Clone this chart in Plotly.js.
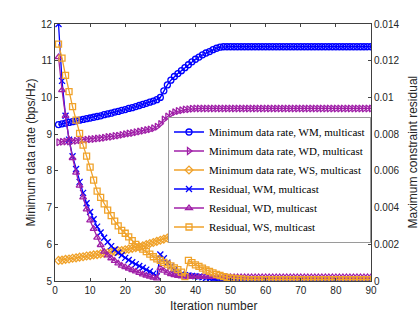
<!DOCTYPE html>
<html><head><meta charset="utf-8">
<script src="https://cdn.plot.ly/plotly-3.0.1.min.js"></script>
<style>html,body{margin:0;padding:0;background:#fff}#chart{width:420px;height:315px}</style>
</head><body><div id="chart"></div>
<script>
const iterations = [];
for (let i = 1; i <= 90; i++) iterations.push(i);

const rateWM = [9.26,9.28,9.30,9.32,9.34,9.36,9.38,9.40,9.42,9.44,9.46,9.48,9.50,9.53,9.55,9.57,9.60,9.62,9.65,9.67,9.70,9.72,9.75,9.78,9.81,9.84,9.87,9.90,9.94,10.00,
10.18,10.34,10.47,10.57,10.65,10.73,10.81,10.89,10.97,11.04,11.10,11.16,11.21,11.25,11.30,11.34,11.37,11.38,11.38,11.38,
11.38,11.38,11.38,11.38,11.38,11.38,11.38,11.38,11.38,11.38,11.38,11.38,11.38,11.38,11.38,11.38,11.38,11.38,11.38,11.38,
11.38,11.38,11.38,11.38,11.38,11.38,11.38,11.38,11.38,11.38,11.38,11.38,11.38,11.38,11.38,11.38,11.38,11.38,11.38,11.38];

const rateWD = [8.78,8.79,8.80,8.80,8.81,8.82,8.83,8.84,8.85,8.86,8.87,8.88,8.89,8.90,8.92,8.93,8.95,8.96,8.98,9.00,9.02,9.03,9.05,9.07,9.09,9.11,9.13,9.16,9.20,9.28,
9.40,9.48,9.55,9.60,9.63,9.65,9.67,9.68,9.69,9.70,9.70,9.70,9.70,9.70,9.70,9.70,9.70,9.70,9.70,9.70,
9.70,9.70,9.70,9.70,9.70,9.70,9.70,9.70,9.70,9.70,9.70,9.70,9.70,9.70,9.70,9.70,9.70,9.70,9.70,9.70,
9.70,9.70,9.70,9.70,9.70,9.70,9.70,9.70,9.70,9.70,9.70,9.70,9.70,9.70,9.70,9.70,9.70,9.70,9.70,9.70];

const rateWS = [5.56,5.57,5.59,5.60,5.62,5.63,5.65,5.66,5.68,5.69,5.71,5.72,5.74,5.75,5.77,5.78,5.80,5.82,5.83,5.85,5.87,5.89,5.91,5.93,5.96,5.99,6.02,6.05,6.08,6.11,
6.14,6.17,6.20,6.23,6.26,6.30,6.34,6.39,6.45,6.52,6.58,6.64,6.69,6.73,6.76,6.78,6.79,6.80,6.80,6.80,
6.80,6.80,6.80,6.80,6.80,6.80,6.80,6.80,6.80,6.80,6.80,6.80,6.80,6.80,6.80,6.80,6.80,6.80,6.80,6.80,
6.80,6.80,6.80,6.80,6.80,6.80,6.80,6.80,6.80,6.80,6.80,6.80,6.80,6.80,6.80,6.80,6.80,6.80,6.80,6.80];

const resWM = [0.0140,0.0109,0.0090,0.0077,0.0068,0.0061,0.0054,0.0048,0.00424,0.00376,0.00336,0.00296,0.00264,0.00236,0.00212,0.0019,0.00172,0.00154,0.0014,0.00126,0.00114,0.00102,0.00092,0.00082,0.00072,0.00062,0.00052,0.0004,0.00026,0.00144,
0.00124,0.0010,0.0008,0.0006,0.00044,0.00036,0.00032,0.0003,0.00028,0.00026,0.00024,0.0002,0.00016,0.00012,0.00008,0.00006,0.00004,0.00003,0.00002,0.00001,
0.00001,0.00001,0.00001,0.00001,0.00001,0.00001,0.00001,0.00001,0.00001,0.00001,0.00001,0.00001,0.00001,0.00001,0.00001,0.00001,0.00001,0.00001,0.00001,0.00001,
0.00001,0.00001,0.00001,0.00001,0.00001,0.00001,0.00001,0.00001,0.00001,0.00001,0.00001,0.00001,0.00001,0.00001,0.00001,0.00001,0.00001,0.00001,0.00001,0.00001];

const resWD = [0.0122,0.0104,0.0090,0.0077,0.0067,0.0059,0.0052,0.00456,0.0039,0.0033,0.00284,0.00236,0.00196,0.0016,0.0014,0.00124,0.0011,0.00096,0.00084,0.00076,0.00068,0.0006,0.00052,0.00044,0.00036,0.0003,0.00024,0.00018,0.00014,0.0007,
0.00056,0.00046,0.00038,0.00032,0.00028,0.00026,0.00025,0.00024,0.00023,0.00022,0.00022,0.00022,0.00022,0.00022,0.00022,0.00022,0.00022,0.00022,0.00022,0.00022,
0.00022,0.00022,0.00022,0.00022,0.00022,0.00022,0.00022,0.00022,0.00022,0.00022,0.00022,0.00022,0.00022,0.00022,0.00022,0.00022,0.00022,0.00022,0.00022,0.00022,
0.00022,0.00022,0.00022,0.00022,0.00022,0.00022,0.00022,0.00022,0.00022,0.00022,0.00022,0.00022,0.00022,0.00022,0.00022,0.00022,0.00022,0.00022,0.00022,0.00022];

const resWS = [0.0129,0.01214,0.0112,0.01032,0.0095,0.00876,0.00804,0.0074,0.0068,0.0062,0.0055,0.0049,0.00456,0.0042,0.00386,0.00356,0.00326,0.003,0.00276,0.0026,0.0024,0.0022,0.002,0.00186,0.00174,0.0016,0.00146,0.00132,0.0012,0.00112,
0.00102,0.00092,0.00082,0.00072,0.00062,0.00048,0.00024,0.00112,0.0010,0.00088,0.0008,0.0007,0.0006,0.00052,0.00044,0.00036,0.0003,0.00024,0.0002,0.00016,
0.00014,0.00012,0.0001,0.00009,0.00008,0.00008,0.00008,0.00008,0.00008,0.00008,0.00008,0.00008,0.00008,0.00008,0.00008,0.00008,0.00008,0.00008,0.00008,0.00008,
0.00008,0.00008,0.00008,0.00008,0.00008,0.00008,0.00008,0.00008,0.00008,0.00008,0.00008,0.00008,0.00008,0.00008,0.00008,0.00008,0.00008,0.00008,0.00008,0.00008];

const seriesNames = [
  'Minimum data rate, WM, multicast',
  'Minimum data rate, WD, multicast',
  'Minimum data rate, WS, multicast',
  'Residual, WM, multicast',
  'Residual, WD, multicast',
  'Residual, WS, multicast'
];
const xTitle = 'Iteration number';
const yLeftTitle = 'Minimum data rate (bps/Hz)';
const yRightTitle = 'Maximum constraint residual';
const leftTicks = [5,6,7,8,9,10,11,12];
const rightTickVals = [0,0.002,0.004,0.006,0.008,0.01,0.012,0.014];
const rightTickText = ['0','0.002','0.004','0.006','0.008','0.01','0.012','0.014'];
const xTicks = [0,10,20,30,40,50,60,70,80,90];

const BLUE = '#0000ff', PURPLE = '#a020a8', ORANGE = '#f0a22a';

function tr(y, name, color, symbol, yaxis, msize) {
  return {
    x: iterations, y: y, name: name, yaxis: yaxis,
    type: 'scatter', mode: 'lines+markers',
    line: {color: color, width: 1.3},
    marker: {symbol: symbol, size: msize, color: color, line: {color: color, width: 1.3}}
  };
}

const data = [
  tr(rateWM, seriesNames[0], BLUE, 'circle-open', 'y', 6),
  tr(rateWD, seriesNames[1], PURPLE, 'triangle-right-open', 'y', 6),
  tr(rateWS, seriesNames[2], ORANGE, 'diamond-open', 'y', 6),
  tr(resWM, seriesNames[3], BLUE, 'x-thin-open', 'y2', 6),
  tr(resWD, seriesNames[4], PURPLE, 'triangle-up-open', 'y2', 6),
  tr(resWS, seriesNames[5], ORANGE, 'square-open', 'y2', 6)
];

const axisFont = {family: 'Liberation Sans, Arial, sans-serif', size: 10, color: '#262626'};
const titleFont = {family: 'Liberation Sans, Arial, sans-serif', size: 12, color: '#262626'};
const layout = {
  width: 420, height: 315,
  margin: {l: 55, r: 49, t: 24, b: 34},
  paper_bgcolor: '#fff', plot_bgcolor: '#fff',
  showlegend: true,
  font: axisFont,
  xaxis: {
    range: [0, 90], tickvals: xTicks, ticks: 'inside', ticklen: 3,
    showline: true, linecolor: '#404040', linewidth: 1, mirror: 'ticks',
    showgrid: false, zeroline: false, tickfont: axisFont
  },
  yaxis: {
    range: [5, 12], tickvals: leftTicks, ticks: 'inside', ticklen: 3,
    showline: true, linecolor: '#404040', linewidth: 1,
    showgrid: false, zeroline: false, tickfont: axisFont
  },
  yaxis2: {
    range: [0, 0.014], overlaying: 'y', side: 'right',
    tickvals: rightTickVals, ticktext: rightTickText, ticks: 'inside', ticklen: 3,
    showline: true, linecolor: '#404040', linewidth: 1,
    showgrid: false, zeroline: false, tickfont: axisFont
  },
  annotations: [
    {text: xTitle, xref: 'paper', yref: 'paper', x: 0.5, y: 0, xanchor: 'center', yanchor: 'middle',
     yshift: -25, showarrow: false, font: titleFont},
    {text: yLeftTitle, xref: 'paper', yref: 'paper', x: 0, y: 0.5, xanchor: 'center', yanchor: 'middle',
     xshift: -25, textangle: -90, showarrow: false, font: titleFont},
    {text: yRightTitle, xref: 'paper', yref: 'paper', x: 1, y: 0.5, xanchor: 'center', yanchor: 'middle',
     xshift: 41, textangle: -90, showarrow: false, font: titleFont}
  ],
  legend: {
    x: 1, xanchor: 'right', y: 0.64, yanchor: 'top',
    bgcolor: '#ffffff', bordercolor: '#9a9a9a', borderwidth: 1,
    font: {family: 'Liberation Serif, Times New Roman, serif', size: 11, color: '#000'},
    itemwidth: 30, tracegroupgap: 0
  }
};

Plotly.newPlot('chart', data, layout, {displayModeBar: false, staticPlot: true});
</script>
</body></html>
